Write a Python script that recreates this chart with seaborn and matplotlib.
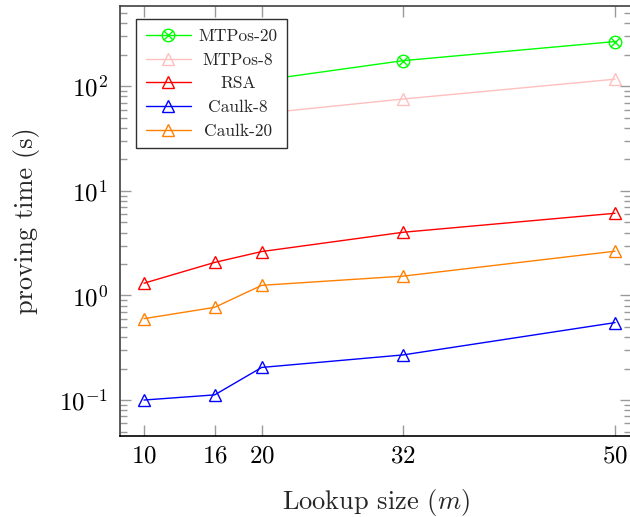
import matplotlib
matplotlib.use("Agg")
import matplotlib.pyplot as plt
import seaborn as sns
import numpy as np
from matplotlib.path import Path
from matplotlib.ticker import LogLocator, LogFormatterMathtext, NullFormatter, FixedLocator

# data (MTPos points at 10/16/20 sit behind the legend)
sizes = [10, 16, 20, 32, 50]
mtpos_20 = [62, 88, 114, 176, 268]
mtpos_8 = [33, 44, 55, 75.6, 117]
rsa = [1.31, 2.07, 2.63, 4.02, 6.11]
caulk_8 = [0.1, 0.112, 0.205, 0.27, 0.55]
caulk_20 = [0.60, 0.77, 1.25, 1.53, 2.65]

names = ["MTPos-20", "MTPos-8", "RSA", "Caulk-8", "Caulk-20"]
colors = ["#00ff00", "#ffbfbf", "#ff0000", "#0000ff", "#ff8000"]

# circle with a cross inside, like pgfplots' otimes
a = np.sqrt(0.5)
circ = Path.unit_circle()
cross = Path([(-a, -a), (a, a), (-a, a), (a, -a)],
             [Path.MOVETO, Path.LINETO, Path.MOVETO, Path.LINETO])
otimes = Path.make_compound_path(circ, cross)
markers = [otimes, "^", "^", "^", "^"]
msizes = [9, 8, 8, 8, 8]

sns.set_style("ticks")
plt.rcParams["font.family"] = "serif"
plt.rcParams["font.serif"] = ["cmr10"]
plt.rcParams["mathtext.fontset"] = "cm"
plt.rcParams["axes.formatter.use_mathtext"] = True

W, H = 630, 517
fig = plt.figure(figsize=(W / 100, H / 100), dpi=100)
left, right, top, bottom = 120.3, 631, 5.7, 436
ax = fig.add_axes([left / W, 1 - bottom / H, (right - left) / W, (bottom - top) / H])

series = [mtpos_20, mtpos_8, rsa, caulk_8, caulk_20]
for name, vals, c, m, ms in zip(names, series, colors, markers, msizes):
    sns.lineplot(x=sizes, y=vals, color=c, marker=m, markersize=ms,
                 markerfacecolor="none", markeredgecolor=c, markeredgewidth=1.0,
                 linewidth=1.0, label=name, ax=ax)

ax.set_yscale("log")
px_per_unit = (615 - 144) / 40
ax.set_xlim(10 - (144 - left) / px_per_unit, 10 + (right - 144) / px_per_unit)
ax.set_ylim(10 ** -1.344, 10 ** 2.771)

ax.xaxis.set_major_locator(FixedLocator(sizes))
ax.yaxis.set_major_locator(LogLocator(base=10, numticks=10))
ax.yaxis.set_minor_locator(LogLocator(base=10, subs=np.arange(2, 10), numticks=20))
ax.yaxis.set_major_formatter(LogFormatterMathtext())
ax.yaxis.set_minor_formatter(NullFormatter())

ax.tick_params(which="both", direction="in", top=True, right=True,
               color="#9a9a9a", width=1.0, labelsize=18, labelcolor="black")
ax.tick_params(which="major", length=8)
ax.tick_params(which="minor", length=5)
ax.tick_params(axis="x", pad=7)
ax.tick_params(axis="y", pad=9)

for side in ["left", "top", "right"]:
    ax.spines[side].set_color("#404040")
    ax.spines[side].set_linewidth(1.2)
ax.spines["bottom"].set_color("black")
ax.spines["bottom"].set_linewidth(1.2)

ax.set_xlabel("Lookup size ($m$)", fontsize=19, labelpad=14)
ax.set_ylabel("proving time (s)", fontsize=19)
ax.yaxis.set_label_coords(-0.157, 0.5)

leg = ax.legend(loc="upper left", bbox_to_anchor=((136 - left) / (right - left), 1 - (19.3 - top) / (bottom - top)),
                borderaxespad=0, fancybox=False, framealpha=1, edgecolor="#303030",
                fontsize=12.5, handlelength=2.6, handletextpad=0.45, labelspacing=0.48,
                borderpad=0.55)
leg.get_frame().set_linewidth(1.0)
leg.set_zorder(5)

# center the legend labels like pgfplots does
fig.canvas.draw()
r = fig.canvas.get_renderer()
widths = [t.get_window_extent(r).width for t in leg.get_texts()]
wmax = max(widths)
for t, w in zip(leg.get_texts(), widths):
    t.set_x((wmax - w) / 2)

fig.savefig("out.png", dpi=100)
